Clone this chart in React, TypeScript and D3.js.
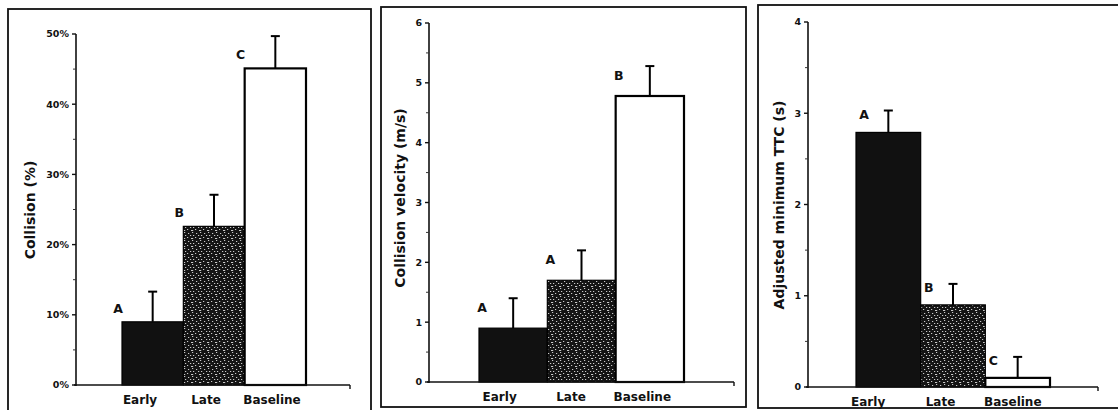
import React from "react";
import * as d3 from "d3";

// data
const categories = ["Early", "Late", "Baseline"];

const collisionPct = [9.0, 22.6, 45.1];
const collisionErr = [4.3, 4.5, 4.6];
const collisionLetters = ["A", "B", "C"];
const collisionTicks = [0, 10, 20, 30, 40, 50];

const velocity = [0.9, 1.7, 4.78];
const velocityErr = [0.5, 0.5, 0.5];
const velocityLetters = ["A", "A", "B"];
const velocityTicks = [0, 1, 2, 3, 4, 5, 6];

const ttc = [2.79, 0.9, 0.1];
const ttcErr = [0.24, 0.23, 0.23];
const ttcLetters = ["A", "B", "C"];
const ttcTicks = [0, 1, 2, 3, 4];

const fills = ["#111", "url(#stipple)", "#fff"];
const FONT = "'DejaVu Sans', Verdana, sans-serif";

type PanelProps = {
  title: string;
  values: number[];
  errors: number[];
  letters: string[];
  ticks: number[];
  fmt: (v: number) => string;
  frame: [number, number, number, number];
  axisX: number;
  xEnd: number;
  yRange: [number, number];
  barRange: [number, number];
  labelRange: [number, number];
  titlePos: [number, number];
  letterDx: number;
  letterDy: number;
};

const Panel = (p: PanelProps) => {
  const max = p.ticks[p.ticks.length - 1];
  const y = d3.scaleLinear().domain([0, max]).range(p.yRange);
  const x = d3.scaleBand().domain(categories).range(p.barRange).padding(0);
  const xl = d3.scaleBand().domain(categories).range(p.labelRange).padding(0);
  const step = p.ticks[1] - p.ticks[0];
  const minor = d3.range(step / 2, max, step);
  const y0 = y(0);

  return (
    <g>
      <rect
        x={p.frame[0]}
        y={p.frame[1]}
        width={p.frame[2] - p.frame[0]}
        height={p.frame[3] - p.frame[1]}
        fill="none"
        stroke="#111"
        strokeWidth={1.8}
      />
      {/* bars */}
      {categories.map((c, i) => (
        <rect
          key={c}
          x={x(c)}
          y={y(p.values[i])}
          width={x.bandwidth()}
          height={y0 - y(p.values[i])}
          fill={fills[i]}
          stroke="#000"
          strokeWidth={i === 2 ? 2.2 : 1.2}
        />
      ))}
      {/* error bars */}
      {categories.map((c, i) => {
        const cx = (x(c) as number) + x.bandwidth() / 2;
        const top = y(p.values[i] + p.errors[i]);
        return (
          <g key={"e" + c} stroke="#000" strokeWidth={2}>
            <line x1={cx} x2={cx} y1={y(p.values[i])} y2={top} />
            <line x1={cx - 4.5} x2={cx + 4.5} y1={top} y2={top} />
          </g>
        );
      })}
      {/* significance letters */}
      {categories.map((c, i) => (
        <text
          key={"l" + c}
          x={(x(c) as number) + p.letterDx}
          y={y(p.values[i]) - p.letterDy}
          textAnchor="middle"
          fontFamily={FONT}
          fontWeight="bold"
          fontSize={12.5}
          fill="#111"
        >
          {p.letters[i]}
        </text>
      ))}
      {/* y axis */}
      <line x1={p.axisX} x2={p.axisX} y1={y(max)} y2={y0 + 1} stroke="#111" strokeWidth={1.6} />
      {p.ticks.map((t) => (
        <g key={"t" + t}>
          <line x1={p.axisX - 4} x2={p.axisX} y1={y(t)} y2={y(t)} stroke="#111" strokeWidth={1.4} />
          <text
            x={p.axisX - 7}
            y={y(t)}
            dy="0.36em"
            textAnchor="end"
            fontFamily={FONT}
            fontWeight="bold"
            fontSize={9.5}
            fill="#111"
          >
            {p.fmt(t)}
          </text>
        </g>
      ))}
      {minor.map((t) => (
        <line key={"m" + t} x1={p.axisX - 3} x2={p.axisX} y1={y(t)} y2={y(t)} stroke="#333" strokeWidth={1} />
      ))}
      {/* x axis */}
      <line x1={p.axisX - 2} x2={p.xEnd} y1={y0} y2={y0} stroke="#111" strokeWidth={1.6} />
      <line x1={p.xEnd} x2={p.xEnd} y1={y0} y2={y0 + 4} stroke="#111" strokeWidth={1.4} />
      {categories.map((c) => (
        <text
          key={"c" + c}
          x={(xl(c) as number) + xl.bandwidth() / 2}
          y={y0 + 19}
          textAnchor="middle"
          fontFamily={FONT}
          fontWeight="bold"
          fontSize={12}
          fill="#111"
        >
          {c}
        </text>
      ))}
      <text
        transform={`translate(${p.titlePos[0]},${p.titlePos[1]}) rotate(-90)`}
        textAnchor="middle"
        dy="0.36em"
        fontFamily={FONT}
        fontWeight="bold"
        fontSize={14}
        fill="#111"
      >
        {p.title}
      </text>
    </g>
  );
};

export default function App() {
  const dots: [number, number][] = [
    [0, 0], [4, 1], [1, 3], [6, 3], [3, 5], [7, 6], [0, 6],
  ];
  return (
    <svg
      width={1118}
      height={410}
      style={{ position: "absolute", left: 0, top: 0, background: "#fff" }}
    >
      <defs>
        <pattern id="stipple" width={8} height={8} patternUnits="userSpaceOnUse">
          <rect width={8} height={8} fill="#141414" />
          {dots.map(([dx, dy], i) => (
            <rect key={i} x={dx} y={dy} width={1.2} height={1} fill="#c8c8c8" />
          ))}
        </pattern>
      </defs>
      <Panel
        title="Collision (%)"
        values={collisionPct}
        errors={collisionErr}
        letters={collisionLetters}
        ticks={collisionTicks}
        fmt={(v) => `${v}%`}
        frame={[8, 9, 371, 430]}
        axisX={76}
        xEnd={350}
        yRange={[385, 34]}
        barRange={[122, 306]}
        labelRange={[107, 305]}
        titlePos={[30, 210]}
        letterDx={-4}
        letterDy={9}
      />
      <Panel
        title="Collision velocity (m/s)"
        values={velocity}
        errors={velocityErr}
        letters={velocityLetters}
        ticks={velocityTicks}
        fmt={(v) => `${v}`}
        frame={[381, 7, 746, 407]}
        axisX={429}
        xEnd={734}
        yRange={[382, 23]}
        barRange={[479, 684]}
        labelRange={[464, 678]}
        titlePos={[400, 198]}
        letterDx={3}
        letterDy={16}
      />
      <Panel
        title="Adjusted minimum TTC (s)"
        values={ttc}
        errors={ttcErr}
        letters={ttcLetters}
        ticks={ttcTicks}
        fmt={(v) => `${v}`}
        frame={[758, 5, 1125, 408]}
        axisX={808}
        xEnd={1098}
        yRange={[387, 22]}
        barRange={[856, 1050]}
        labelRange={[832, 1049]}
        titlePos={[779, 205]}
        letterDx={8}
        letterDy={13}
      />
    </svg>
  );
}
